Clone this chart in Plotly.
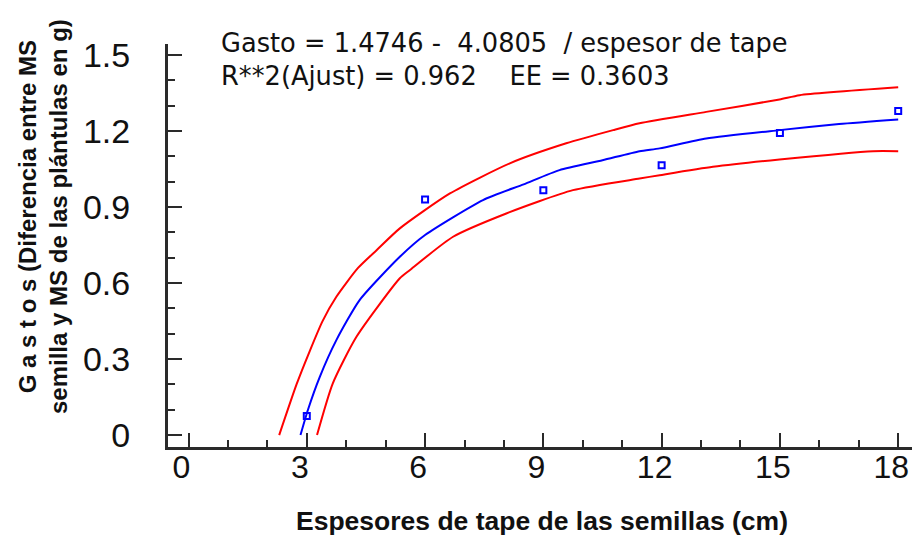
import plotly.graph_objects as go

# Observed data
espesor = [3, 6, 9, 12, 15, 18]
gasto = [0.075, 0.93, 0.967, 1.065, 1.193, 1.279]

# Fitted curve
ajuste_x = [2.84, 3.03, 3.33, 3.75, 4.34, 5.36, 6.0, 7.47, 8.5, 9.41, 10.5, 11.44, 11.95, 13.13, 14.99, 16.5, 18.0]
ajuste_y = [0.00, 0.10, 0.23, 0.375, 0.533, 0.704, 0.79, 0.928, 0.99, 1.046, 1.085, 1.121, 1.132, 1.171, 1.204, 1.228, 1.246]

# Upper confidence band
sup_x = [2.30, 2.74, 3.07, 3.4, 3.75, 4.3, 4.77, 5.36, 6.63, 8.15, 9.58, 10.77, 11.44, 13.13, 14.99, 15.5, 18.0]
sup_y = [0.00, 0.20, 0.33, 0.45, 0.546, 0.66, 0.730, 0.816, 0.954, 1.073, 1.152, 1.204, 1.231, 1.276, 1.325, 1.342, 1.373]

# Lower confidence band
inf_x = [3.26, 3.66, 4.26, 5.36, 5.61, 6.71, 8.06, 9.75, 11.44, 11.95, 13.3, 14.99, 17.36, 18.0]
inf_y = [0.00, 0.204, 0.388, 0.619, 0.651, 0.783, 0.875, 0.967, 1.013, 1.026, 1.059, 1.088, 1.121, 1.121]

x_ticks = [0, 3, 6, 9, 12, 15, 18]
x_tick_labels = ["0", "3", "6", "9", "12", "15", "18"]
y_ticks = [0, 0.3, 0.6, 0.9, 1.2, 1.5]
y_tick_labels = ["0", "0.3", "0.6", "0.9", "1.2", "1.5"]

eq_line1 = "Gasto = 1.4746 -\u00a0\u00a04.0805\u00a0\u00a0/ espesor de tape"
eq_line2 = "R**2(Ajust) = 0.962\u00a0\u00a0\u00a0\u00a0EE = 0.3603"
y_title = "G a s t o s (Diferencia entre MS<br>semilla y MS de las plántulas en g)"
x_title = "Espesores de tape de las semillas (cm)"

fig = go.Figure()
fig.add_trace(go.Scatter(x=sup_x, y=sup_y, mode="lines", line_shape="spline",
                         line=dict(color="#ff0000", width=2, smoothing=0.6), showlegend=False))
fig.add_trace(go.Scatter(x=inf_x, y=inf_y, mode="lines", line_shape="spline",
                         line=dict(color="#ff0000", width=2, smoothing=0.6), showlegend=False))
fig.add_trace(go.Scatter(x=ajuste_x, y=ajuste_y, mode="lines", line_shape="spline",
                         line=dict(color="#0000ff", width=2, smoothing=0.6), showlegend=False))
fig.add_trace(go.Scatter(x=espesor, y=gasto, mode="markers",
                         marker=dict(symbol="square-open", size=6, color="#0000ff",
                                     line=dict(width=2, color="#0000ff")),
                         showlegend=False))

axis_color = "#2a2a2a"
fig.update_xaxes(range=[-0.52, 18.35], tickvals=x_ticks, ticktext=x_tick_labels,
                 ticks="inside", ticklen=14, tickwidth=2, tickcolor=axis_color,
                 minor=dict(dtick=1, ticks="inside", ticklen=7, tickwidth=2, tickcolor=axis_color),
                 showline=True, linecolor=axis_color, linewidth=3,
                 showgrid=False, zeroline=False,
                 tickfont=dict(family="Liberation Sans", size=32, color="#111111"),
                 ticklabelshift=-7, ticklabelstandoff=-10)
fig.update_yaxes(range=[-0.047, 1.544], tickvals=y_ticks, ticktext=y_tick_labels,
                 ticks="inside", ticklen=14, tickwidth=2, tickcolor=axis_color,
                 minor=dict(dtick=0.1, ticks="inside", ticklen=7, tickwidth=2, tickcolor=axis_color),
                 showline=True, linecolor=axis_color, linewidth=3,
                 showgrid=False, zeroline=False,
                 tickfont=dict(family="Liberation Sans", size=34, color="#111111"),
                 ticklabelstandoff=28)

fig.add_annotation(xref="paper", yref="paper", x=(219 - 168) / 744, y=(447 - 26) / 403,
                   xanchor="left", yanchor="top", align="left", showarrow=False,
                   text=eq_line1 + "<br>" + eq_line2,
                   font=dict(family="DejaVu Sans", size=25.7, color="#111111"))
fig.add_annotation(xref="paper", yref="paper", x=(43 - 168) / 744, y=(447 - 217) / 403,
                   xanchor="center", yanchor="middle", showarrow=False, textangle=-90,
                   text=y_title,
                   font=dict(family="Liberation Sans", size=24, color="#111111", weight="bold"))
fig.add_annotation(xref="paper", yref="paper", x=(542 - 168) / 744, y=(447 - 521) / 403,
                   xanchor="center", yanchor="middle", showarrow=False,
                   text=x_title,
                   font=dict(family="Liberation Sans", size=26.5, color="#111111", weight="bold"))

fig.update_layout(width=912, height=536, margin=dict(l=168, r=0, t=44, b=89),
                  paper_bgcolor="white", plot_bgcolor="white")

fig.write_html("out.html", config={"displayModeBar": False},
               post_script="document.body.style.margin='0px';document.body.style.overflow='hidden';")
